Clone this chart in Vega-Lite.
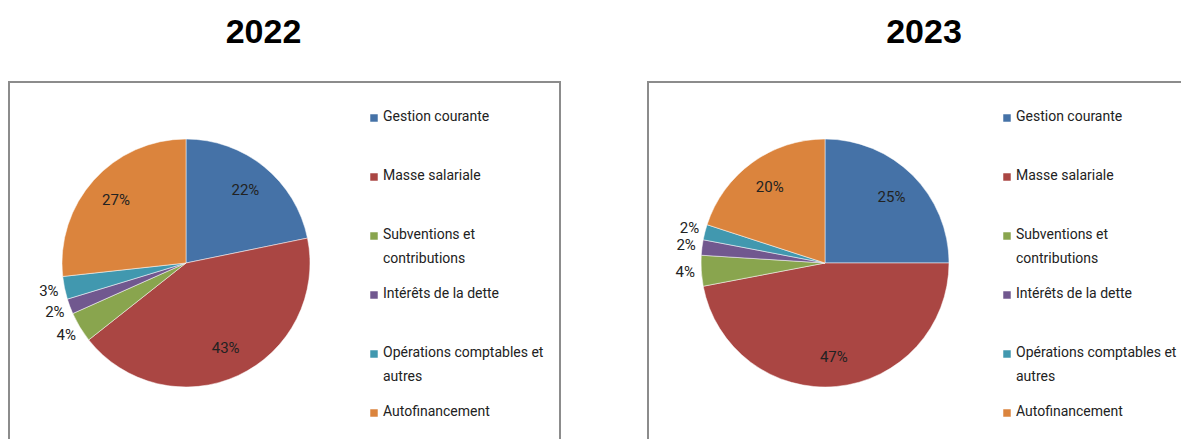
{
  "$schema": "https://vega.github.io/schema/vega-lite/v6.json",
  "background": "white",
  "padding": {"left": 8, "top": 15, "right": -2, "bottom": -3},
  "spacing": 88,
  "bounds": "flush",
  "config": {
    "view": {"stroke": "#8c8c8c", "strokeWidth": 2},
    "font": "Roboto",
    "style": {"guide-label": {"dy": -8.5, "lineHeight": 24}},
    "title": {"font": "Liberation Sans", "fontSize": 34, "fontWeight": "bold", "color": "#000000", "offset": 32, "baseline": "alphabetic", "anchor": "middle"},
    "legend": {
      "orient": "none", "title": null, "padding": 0, "symbolType": "square", "symbolSize": 56, "symbolStrokeWidth": 0,
      "labelFont": "Roboto", "labelFontSize": 14, "labelColor": "#222222", "labelOffset": 2, "labelLimit": 400, "rowPadding": 20, "labelBaseline": "top"
    }
  },
  "datasets": {
    "y2022": [
      {"cat": "Gestion courante", "k": 1, "share": 0.22},
      {"cat": "Masse salariale", "k": 2, "share": 0.43},
      {"cat": "Subventions et contributions", "k": 3, "share": 0.04},
      {"cat": "Intérêts de la dette", "k": 4, "share": 0.02},
      {"cat": "Opérations comptables et autres", "k": 5, "share": 0.03},
      {"cat": "Autofinancement", "k": 6, "share": 0.27}
    ],
    "y2023": [
      {"cat": "Gestion courante", "k": 1, "share": 0.25},
      {"cat": "Masse salariale", "k": 2, "share": 0.47},
      {"cat": "Subventions et contributions", "k": 3, "share": 0.04},
      {"cat": "Intérêts de la dette", "k": 4, "share": 0.02},
      {"cat": "Opérations comptables et autres", "k": 5, "share": 0.02},
      {"cat": "Autofinancement", "k": 6, "share": 0.20}
    ]
  },
  "resolve": {"legend": {"color": "independent"}},
  "hconcat": [
    {
      "width": 551, "height": 362,
      "view": {"stroke": "#8c8c8c", "strokeWidth": 2},
      "title": {"text": "2022", "dx": -21},
      "data": {"name": "y2022"},
      "encoding": {
        "theta": {"field": "share", "type": "quantitative", "stack": true},
        "order": {"field": "k", "type": "quantitative"}
      },
      "layer": [
        {
          "mark": {"type": "arc", "radius": 124, "x": 177, "stroke": "white", "strokeWidth": 0.5},
          "encoding": {
            "color": {
              "field": "cat", "type": "nominal",
              "sort": ["Gestion courante", "Masse salariale", "Subventions et contributions", "Intérêts de la dette", "Opérations comptables et autres", "Autofinancement"],
              "scale": {"domain": ["Gestion courante", "Masse salariale", "Subventions et contributions", "Intérêts de la dette", "Opérations comptables et autres", "Autofinancement"], "range": ["#4572A7", "#AA4643", "#89A54E", "#71588F", "#4198AF", "#DB843D"]},
              "legend": {
                "legendX": 358, "legendY": 29,
                "labelExpr": "datum.label == 'Subventions et contributions' ? ['Subventions et', 'contributions'] : datum.label == 'Opérations comptables et autres' ? ['Opérations comptables et', 'autres'] : [datum.label, '']"
              }
            }
          }
        },
        {
          "mark": {"type": "text", "radius": 94, "x": 177, "fontSize": 15, "font": "Roboto"},
          "encoding": {
            "detail": {"field": "cat"},
            "color": {"value": "#222222"},
            "text": {"condition": {"test": "datum.share >= 0.1", "field": "share", "type": "quantitative", "format": ".0%"}, "value": ""}
          }
        },
        {
          "mark": {"type": "text", "radius": 140, "x": 177, "fontSize": 15, "font": "Roboto"},
          "encoding": {
            "detail": {"field": "cat"},
            "color": {"value": "#222222"},
            "text": {"condition": {"test": "datum.share < 0.1", "field": "share", "type": "quantitative", "format": ".0%"}, "value": ""}
          }
        }
      ]
    },
    {
      "width": 536, "height": 362,
      "view": {"stroke": "#8c8c8c", "strokeWidth": 2},
      "title": {"text": "2023", "dx": 8},
      "data": {"name": "y2023"},
      "encoding": {
        "theta": {"field": "share", "type": "quantitative", "stack": true},
        "order": {"field": "k", "type": "quantitative"}
      },
      "layer": [
        {
          "mark": {"type": "arc", "radius": 124, "x": 177, "stroke": "white", "strokeWidth": 0.5},
          "encoding": {
            "color": {
              "field": "cat", "type": "nominal",
              "sort": ["Gestion courante", "Masse salariale", "Subventions et contributions", "Intérêts de la dette", "Opérations comptables et autres", "Autofinancement"],
              "scale": {"domain": ["Gestion courante", "Masse salariale", "Subventions et contributions", "Intérêts de la dette", "Opérations comptables et autres", "Autofinancement"], "range": ["#4572A7", "#AA4643", "#89A54E", "#71588F", "#4198AF", "#DB843D"]},
              "legend": {
                "legendX": 352, "legendY": 29,
                "labelExpr": "datum.label == 'Subventions et contributions' ? ['Subventions et', 'contributions'] : datum.label == 'Opérations comptables et autres' ? ['Opérations comptables et', 'autres'] : [datum.label, '']"
              }
            }
          }
        },
        {
          "mark": {"type": "text", "radius": 94, "x": 177, "fontSize": 15, "font": "Roboto"},
          "encoding": {
            "detail": {"field": "cat"},
            "color": {"value": "#222222"},
            "text": {"condition": {"test": "datum.share >= 0.1", "field": "share", "type": "quantitative", "format": ".0%"}, "value": ""}
          }
        },
        {
          "mark": {"type": "text", "radius": 140, "x": 177, "fontSize": 15, "font": "Roboto"},
          "encoding": {
            "detail": {"field": "cat"},
            "color": {"value": "#222222"},
            "text": {"condition": {"test": "datum.share < 0.1", "field": "share", "type": "quantitative", "format": ".0%"}, "value": ""}
          }
        }
      ]
    }
  ]
}
